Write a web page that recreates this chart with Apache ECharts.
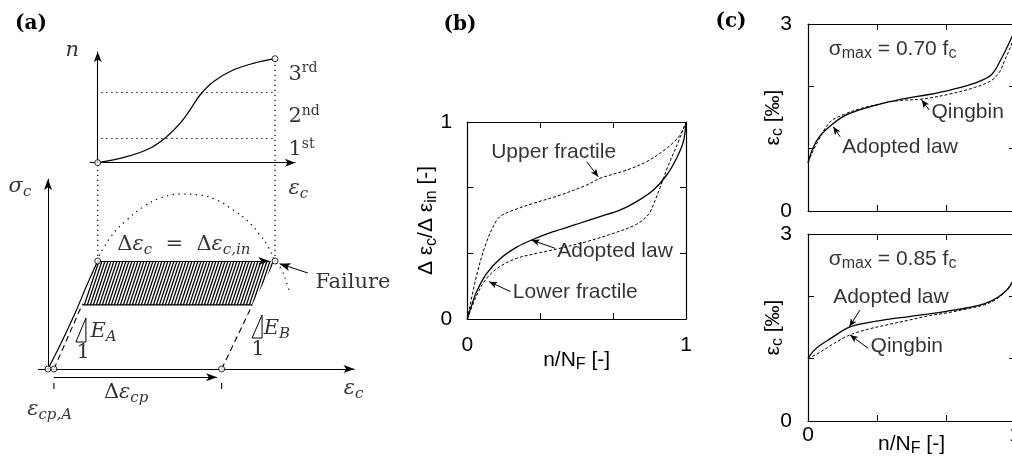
<!DOCTYPE html>
<html>
<head>
<meta charset="utf-8">
<script src="https://cdn.jsdelivr.net/npm/echarts@6/dist/echarts.min.js"></script>
<style>
html,body{margin:0;padding:0;background:#fff;}
#chart{width:1012px;height:465px;}
</style>
</head>
<body>
<div id="chart"></div>
<script>
// ======================= DATA =======================
// (a) upper sketch: number of cycles n vs strain (normalised, failure at [1,1])
const aCycleCurve = [[0,0],[0.164,0.058],[0.295,0.139],[0.389,0.25],[0.464,0.378],[0.52,0.506],[0.577,0.651],[0.652,0.779],[0.764,0.891],[0.877,0.955],[1,1]];
const aPhaseBounds = [0.2375, 0.68];
const aCycleEnds = [[0,0],[1,1]];
// (a) lower sketch: stress vs strain (normalised)
const aLoadCurve = [[0,0],[0.06,0.25],[0.12,0.52],[0.17,0.77],[0.219,1]];
const aLoopArea = [[0.219,1],[1,1],[0.899,0.593],[0.15,0.593]];
const aLoopBottom = [[0.15,0.593],[0.899,0.593]];
const aUnloadA = [[0.026,0],[0.15,0.593]];
const aUnloadB = [[0.765,0],[0.9,0.593]];
const aEnvelope = [[0.225,1.05],[0.288,1.256],[0.347,1.38],[0.42,1.503],[0.493,1.581],[0.581,1.62],[0.67,1.611],[0.743,1.565],[0.816,1.472],[0.875,1.38],[0.934,1.241],[0.97,1.132],[1.0,1.0],[1.03,0.917],[1.052,0.793],[1.066,0.701]];
const aStatePoints = [[0,0],[0.026,0],[0.765,0],[0.219,1],[1,1]];
const aSlopeA = [[0.123,0.25],[0.167,0.472],[0.167,0.25],[0.123,0.25]];
const aSlopeB = [[0.899,0.287],[0.943,0.5],[0.943,0.287],[0.899,0.287]];
const aLinkLeft = [[0.219,1],[0.219,1.907]];
const aLinkRight = [[1,1],[1,2.87]];
const aCpTickA = [[0.026,-0.13],[0.026,-0.194]];
const aCpTickB = [[0.765,-0.13],[0.765,-0.194]];

// (b) normalised inelastic strain vs n/N_F
const bAdopted = [[0,0],[0.02,0.07],[0.043,0.14],[0.088,0.23],[0.149,0.305],[0.226,0.365],[0.294,0.401],[0.393,0.443],[0.5,0.481],[0.607,0.52],[0.698,0.553],[0.774,0.596],[0.851,0.655],[0.912,0.731],[0.957,0.816],[0.988,0.9],[1,1]];
const bUpper = [[0,0],[0.043,0.223],[0.088,0.391],[0.134,0.501],[0.157,0.526],[0.21,0.552],[0.302,0.587],[0.424,0.629],[0.546,0.68],[0.607,0.714],[0.729,0.756],[0.82,0.799],[0.912,0.867],[0.973,0.934],[1,1]];
const bLower = [[0,0],[0.043,0.12],[0.088,0.206],[0.149,0.266],[0.226,0.308],[0.317,0.333],[0.424,0.359],[0.546,0.393],[0.668,0.435],[0.774,0.481],[0.828,0.53],[0.858,0.6],[0.889,0.69],[0.919,0.78],[0.954,0.87],[1,1]];

// (c) strain [permil] vs n/N_F
const c70Adopted = [[0,0.77],[0.024,1.012],[0.057,1.199],[0.106,1.359],[0.171,1.519],[0.252,1.625],[0.366,1.732],[0.48,1.812],[0.577,1.865],[0.691,1.945],[0.805,2.051],[0.886,2.185],[0.935,2.451],[0.967,2.664],[1,2.9]];
const c70Qingbin = [[0,0.78],[0.024,0.959],[0.057,1.172],[0.106,1.428],[0.171,1.545],[0.252,1.641],[0.366,1.732],[0.447,1.774],[0.553,1.796],[0.691,1.881],[0.805,1.982],[0.886,2.094],[0.927,2.238],[0.951,2.425],[0.976,2.611],[1,2.83]];
const c85Adopted = [[0,1.005],[0.024,1.113],[0.057,1.21],[0.106,1.317],[0.2,1.505],[0.285,1.575],[0.382,1.629],[0.48,1.672],[0.577,1.715],[0.675,1.763],[0.772,1.817],[0.854,1.882],[0.919,1.989],[0.967,2.124],[1,2.32]];
const c85Qingbin = [[0,0.995],[0.057,1.102],[0.122,1.237],[0.203,1.382],[0.285,1.468],[0.382,1.543],[0.48,1.613],[0.577,1.683],[0.675,1.737],[0.772,1.801],[0.854,1.866],[0.919,1.973],[0.967,2.134],[1,2.31]];

// tick labels shown
const bTickLabels = ['0','1'];
const cYTickLabels = ['0','3'];
const cXTickLabels = ['0','1'];

// ======================= STYLE / LAYOUT =======================
const BLACK = '#000';
const SANS = '"Liberation Sans", Arial, Helvetica, sans-serif';
const SERIF = '"DejaVu Serif", "Liberation Serif", serif';

const richA = {
  m:   {fontFamily:SERIF, fontSize:21, lineHeight:26, color:BLACK},
  i:   {fontFamily:SERIF, fontSize:21, lineHeight:26, fontStyle:'italic', color:BLACK},
  si:  {fontFamily:SERIF, fontSize:15, lineHeight:12, fontStyle:'italic', verticalAlign:'bottom', color:BLACK},
  sup: {fontFamily:SERIF, fontSize:14, lineHeight:8, verticalAlign:'top', color:BLACK}
};
const richS = {
  m: {fontFamily:SANS, fontSize:21, lineHeight:26, color:BLACK},
  s: {fontFamily:SANS, fontSize:16, lineHeight:12, verticalAlign:'bottom', color:BLACK}
};

function makeHatch(){
  const w=3,h=9;
  const cv=document.createElement('canvas'); cv.width=w; cv.height=h;
  const ctx=cv.getContext('2d');
  ctx.strokeStyle='#000'; ctx.lineWidth=1.25;
  for(let k=-1;k<=1;k++){
    ctx.beginPath();
    ctx.moveTo(w*(k+1)+w/h*2,-2);
    ctx.lineTo(w*k-w/h*2,h+2);
    ctx.stroke();
  }
  return cv;
}
const hatch = makeHatch();

function ln(ai, data, o){
  o = o || {};
  return {type:'line', xAxisIndex:ai, yAxisIndex:ai, data:data, symbol:'none', smooth:o.smooth||false,
    lineStyle:{color:BLACK, width:o.w||1.2, type:o.type||'solid'}, silent:true, clip:false, z:o.z||3,
    animation:false, markLine:o.markLine};
}
function arrowML(list, size){
  return {silent:true, animation:false, symbol:['none','arrow'], symbolSize:size||[5,8],
    label:{show:false}, emphasis:{disabled:true}, lineStyle:{color:BLACK,width:1,type:'solid'},
    data:list.map(a => [{coord:a[0], lineStyle: a[2] ? {curveness:a[2]} : {}}, {coord:a[1]}])};
}
function plainML(list, style){
  return {silent:true, animation:false, symbol:['none','none'], label:{show:false}, emphasis:{disabled:true},
    lineStyle:style, data:list.map(a => [{coord:a[0]},{coord:a[1]}])};
}
function texts(ai, items, rich){
  return {type:'scatter', xAxisIndex:ai, yAxisIndex:ai, symbolSize:1, silent:true, clip:false, z:10,
    itemStyle:{color:'rgba(0,0,0,0)'}, animation:false,
    data:items.map(t => ({value:[t.x,t.y], label:{show:true, position:'right', distance:0,
      formatter:() => t.s, rich:rich, align:'left', verticalAlign:'middle'}}))};
}
function circles(ai, data){
  return {type:'scatter', xAxisIndex:ai, yAxisIndex:ai, data:data, symbol:'circle', symbolSize:6, silent:true,
    clip:false, z:8, animation:false, itemStyle:{color:'#fff', borderColor:BLACK, borderWidth:1}};
}

const fmtList = (list) => (v) => { const s = String(Math.round(v*1000)/1000); return list.indexOf(s) >= 0 ? s : ''; };
const tickStyle = {show:true, inside:true, length:6, lineStyle:{color:BLACK, width:1}};
const boxLine = {show:true, onZero:false, lineStyle:{color:BLACK, width:1.2}};
const noSplit = {show:false};

function boxX(grid, pos, opt){
  return Object.assign({gridIndex:grid, type:'value', position:pos, min:0, max:1, interval:1/3,
    axisLine:boxLine, axisTick:tickStyle, splitLine:noSplit, axisLabel:{show:false}, nameMoveOverlap:false}, opt||{});
}
function boxY(grid, pos, max, interval, opt){
  return Object.assign({gridIndex:grid, type:'value', position:pos, min:0, max:max, interval:interval,
    axisLine:boxLine, axisTick:tickStyle, splitLine:noSplit, axisLabel:{show:false}, nameMoveOverlap:false}, opt||{});
}
const lblS = (margin, list) => ({show:true, margin:margin, color:BLACK, fontFamily:SANS, fontSize:21,
  formatter:fmtList(list), showMinLabel:true, showMaxLabel:true, hideOverlap:false});

const gridBase = {containLabel:false, outerBoundsMode:'none', show:false};
const letterFont = 'bold 20px "DejaVu Serif"';

const option = {
  animation:false,
  backgroundColor:'#fff',
  textStyle:{fontFamily:SANS},
  graphic:[
    {type:'text', x:31, y:24, style:{text:'(a)', font:letterFont, fill:BLACK, align:'center', verticalAlign:'middle', textAlign:'center', textVerticalAlign:'middle'}},
    {type:'text', x:460, y:25, style:{text:'(b)', font:letterFont, fill:BLACK, align:'center', verticalAlign:'middle', textAlign:'center', textVerticalAlign:'middle'}},
    {type:'text', x:731, y:22, style:{text:'(c)', font:letterFont, fill:BLACK, align:'center', verticalAlign:'middle', textAlign:'center', textVerticalAlign:'middle'}}
  ],
  grid:[
    Object.assign({left:90.08, top:52.04, width:204.96, height:110.66}, gridBase),
    Object.assign({left:2.6, top:45, width:397.25, height:388.8}, gridBase),
    Object.assign({left:467.3, top:122, width:218.7, height:197}, gridBase),
    Object.assign({left:808, top:24, width:207, height:187}, gridBase),
    Object.assign({left:808, top:234, width:207, height:187}, gridBase)
  ],
  xAxis:[
    {gridIndex:0, type:'value', min:-0.043, max:1.113,
      axisLine:{show:true, onZero:true, symbol:['none','arrow'], symbolSize:[6,10], lineStyle:{color:BLACK,width:1.1}},
      axisTick:{show:false}, axisLabel:{show:false}, splitLine:noSplit},
    {gridIndex:1, type:'value', min:-0.2, max:1.55, show:false},
    boxX(2,'bottom',{axisLabel:lblS(16,bTickLabels), name:'{m|n/N}{s|F}{m| [-]}', nameLocation:'middle', nameGap:28, nameTextStyle:{rich:richS}}),
    boxX(2,'top'),
    boxX(3,'bottom'),
    boxX(3,'top'),
    boxX(4,'bottom',{axisLabel:lblS(4,cXTickLabels), name:'{m|n/N}{s|F}{m| [-]}', nameLocation:'middle', nameGap:10, nameTextStyle:{rich:richS}}),
    boxX(4,'top')
  ],
  yAxis:[
    {gridIndex:0, type:'value', min:0, max:1.064,
      axisLine:{show:true, onZero:true, symbol:['none','arrow'], symbolSize:[6,10], lineStyle:{color:BLACK,width:1.1}},
      axisTick:{show:false}, axisLabel:{show:false}, splitLine:noSplit},
    {gridIndex:1, type:'value', min:-0.6, max:3.0, show:false},
    boxY(2,'left',1,1/3,{axisLabel:lblS(15,bTickLabels), name:'{m|Δ ε}{s|c}{m|/Δ ε}{s|in}{m| [-]}', nameLocation:'middle', nameGap:28, nameTextStyle:{rich:richS}}),
    boxY(2,'right',1,1/3),
    boxY(3,'left',3,1,{axisLabel:lblS(16,cYTickLabels), name:'{m|ε}{s|c}{m| [‰]}', nameLocation:'middle', nameGap:22, nameTextStyle:{rich:richS}}),
    boxY(3,'right',3,1),
    boxY(4,'left',3,1,{axisLabel:lblS(16,cYTickLabels), name:'{m|ε}{s|c}{m| [‰]}', nameLocation:'middle', nameGap:22, nameTextStyle:{rich:richS}}),
    boxY(4,'right',3,1)
  ],
  series:[
    // ---------- (a) upper ----------
    ln(0, aCycleCurve, {smooth:0.35, w:1.2, markLine: plainML(aPhaseBounds.map(y => [[0.02,y],[1,y]]), {color:BLACK, width:1.2, type:[1.3,3.7]})}),
    circles(0, aCycleEnds),
    // ---------- (a) lower ----------
    {type:'custom', xAxisIndex:1, yAxisIndex:1, silent:true, clip:false, z:1, animation:false, data:[[0,0]],
      renderItem:(params, api) => ({type:'polygon', shape:{points:aLoopArea.map(p => api.coord(p))},
        style:{fill:{image:hatch, repeat:'repeat'}, stroke:null}})},
    ln(1, aLoadCurve, {smooth:0.3, markLine: arrowML([
      [[-0.044,0],[1.35,0]],
      [[0,0],[0,1.76]],
      [[0.219,1],[0.975,1]],
      [[0.026,-0.077],[0.745,-0.077]],
      [[1.145,0.889],[1.02,0.975],0.35]
    ],[6,11])}),
    ln(1, aLoopBottom, {w:1.2}),
    ln(1, aUnloadA, {type:[6,4], w:1.1}),
    ln(1, aUnloadB, {type:[6,4], w:1.1}),
    ln(1, aCpTickA, {type:[6,4], w:1.1}),
    ln(1, aCpTickB, {type:[6,4], w:1.1}),
    ln(1, aEnvelope, {smooth:0.4, type:[1.3,4.5], w:1.2}),
    ln(1, aLinkLeft, {type:[1.3,3.7], w:1.2}),
    ln(1, aLinkRight, {type:[1.3,3.7], w:1.2}),
    ln(1, aSlopeA, {w:1}),
    ln(1, aSlopeB, {w:1}),
    circles(1, aStatePoints),
    texts(1, [
      {x:0.075, y:2.948, s:'{i|n}'},
      {x:1.057, y:2.731, s:'{m|3}{sup|rd}'},
      {x:1.057, y:2.333, s:'{m|2}{sup|nd}'},
      {x:1.057, y:2.028, s:'{m|1}{sup|st}'},
      {x:1.057, y:1.674, s:'{i|ε}{si|c}'},
      {x:-0.176, y:1.689, s:'{i|σ}{si|c}'},
      {x:0.303, y:1.155, s:'{m|Δ}{i|ε}{si|c}{m|  =  Δ}{i|ε}{si|c,in}'},
      {x:1.176, y:0.801, s:'{m|Failure}'},
      {x:0.185, y:0.343, s:'{i|E}{si|A}'},
      {x:0.123, y:0.148, s:'{m|1}'},
      {x:0.948, y:0.377, s:'{i|E}{si|B}'},
      {x:0.893, y:0.18, s:'{m|1}'},
      {x:0.244, y:-0.219, s:'{m|Δ}{i|ε}{si|cp}'},
      {x:-0.094, y:-0.373, s:'{i|ε}{si|cp,A}'},
      {x:1.301, y:-0.177, s:'{i|ε}{si|c}'}
    ], richA),
    // ---------- (b) ----------
    ln(2, bAdopted, {smooth:0.35, w:1.3, markLine: arrowML([
      [[0.546,0.798],[0.599,0.722]],
      [[0.401,0.359],[0.294,0.401]],
      [[0.198,0.139],[0.1,0.189]]
    ])}),
    ln(2, bUpper, {smooth:0.35, w:1, type:[3,2]}),
    ln(2, bLower, {smooth:0.35, w:1, type:[3,2]}),
    texts(2, [
      {x:0.107, y:0.847, s:'{m|Upper fractile}'},
      {x:0.409, y:0.342, s:'{m|Adopted law}'},
      {x:0.206, y:0.136, s:'{m|Lower fractile}'}
    ], richS),
    // ---------- (c) 0.70 ----------
    ln(4, c70Adopted, {smooth:0.35, w:1.3, markLine: arrowML([
      [[0.586,1.62],[0.549,1.78]],
      [[0.155,1.192],[0.122,1.352]]
    ])}),
    ln(4, c70Qingbin, {smooth:0.35, w:1, type:[3,2]}),
    texts(4, [
      {x:0.098, y:2.602, s:'{m|σ}{s|max}{m| = 0.70 f}{s|c}'},
      {x:0.594, y:1.583, s:'{m|Qingbin}'},
      {x:0.163, y:1.019, s:'{m|Adopted law}'}
    ], richS),
    // ---------- (c) 0.85 ----------
    ln(6, c85Adopted, {smooth:0.35, w:1.3, markLine: arrowML([
      [[0.251,1.781],[0.2,1.513]],
      [[0.291,1.166],[0.203,1.38]]
    ])}),
    ln(6, c85Qingbin, {smooth:0.35, w:1, type:[3,2]}),
    texts(6, [
      {x:0.098, y:2.602, s:'{m|σ}{s|max}{m| = 0.85 f}{s|c}'},
      {x:0.119, y:1.981, s:'{m|Adopted law}'},
      {x:0.3, y:1.203, s:'{m|Qingbin}'}
    ], richS)
  ]
};

const chart = echarts.init(document.getElementById('chart'), null, {renderer:'canvas'});
chart.setOption(option);
</script>
</body>
</html>
